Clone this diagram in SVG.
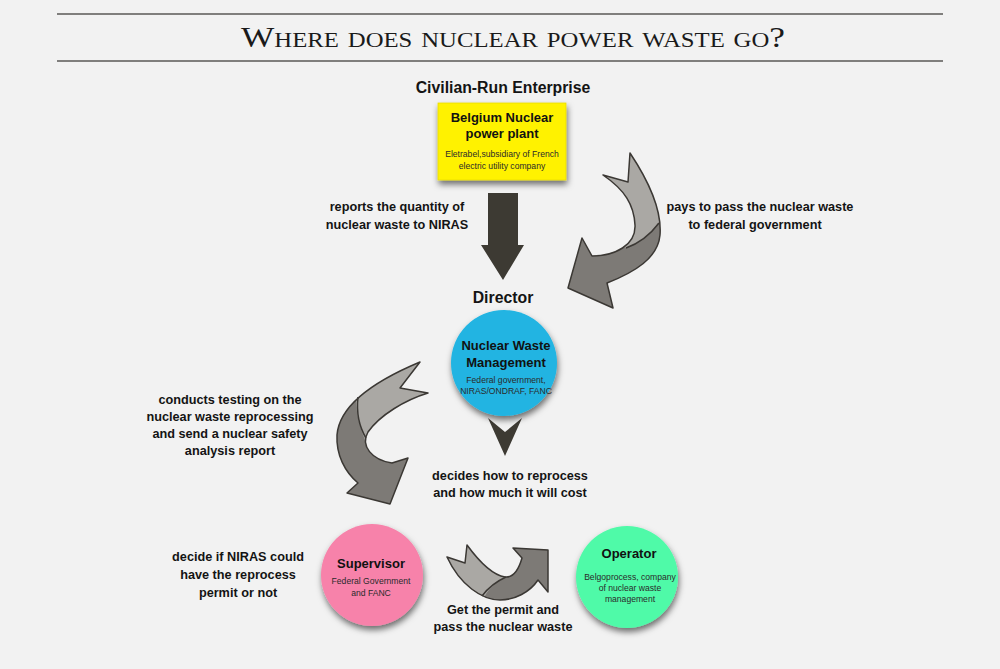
<svg xmlns="http://www.w3.org/2000/svg" width="1000" height="669" viewBox="0 0 1000 669">
<style>
.b{font-family:"Liberation Sans",Arial,sans-serif;font-weight:bold;font-size:12.7px;fill:#141414;text-anchor:middle}
.h{font-family:"Liberation Sans",Arial,sans-serif;font-weight:bold;font-size:15.8px;fill:#141414;text-anchor:middle}
.n{font-family:"Liberation Sans",Arial,sans-serif;font-weight:bold;font-size:13px;fill:#111;text-anchor:middle}
.s{font-family:"Liberation Sans",Arial,sans-serif;font-size:8.6px;fill:#2a2a2a;text-anchor:middle}
.rule{stroke:#5a5856;stroke-width:1.5}
.ar{stroke:#3b3834;stroke-width:1.5;stroke-linejoin:round}
.lt{fill:#aaa8a4}
.dk{fill:#7d7a76}
</style>
<defs>
<filter id="sh" x="-30%" y="-30%" width="160%" height="170%">
<feDropShadow dx="1" dy="4" stdDeviation="3" flood-color="#000" flood-opacity="0.55"/>
</filter>
<path id="a1" d="M603,175 L628,182 L630,153 C648,180 662,210 660,235 C658,258 635,272 607,283 L613,308 L568,288 L582,238 L592,256 C615,256 636,245 635,225 C634,205 625,190 603,175 Z"/>
<path id="a2" d="M420,362 L400,388 L428,393 C405,400 380,415 368,432 C360,446 372,460 392,463 L408,458 L390,504 L347,493 L358,483 C345,472 336,455 337,435 C339,410 365,385 420,362 Z"/>
<path id="a3" d="M447,557 L465,563 L467,545 C478,560 492,575 505,577 C515,578 520,565 522,558 L513,548 L548,550 L548,592 L538,580 C530,592 515,600 500,600 C482,600 460,585 447,557 Z"/>
<clipPath id="c1"><path d="M600,140 L700,140 L700,223 L658,223 C650,235 640,243 625,248 L605,225 Z"/></clipPath>
<clipPath id="c2"><path d="M356,397 C356,415 360,428 365,440 L440,440 L440,340 L356,340 Z"/></clipPath>
<clipPath id="c3"><path d="M440,540 L506,540 L506,577 C495,583 488,588 482,602 L440,602 Z"/></clipPath>
</defs>
<rect width="1000" height="669" fill="#f2f2f2"/>
<g id="title">
<line class="rule" x1="57" y1="14" x2="943" y2="14"/>
<line class="rule" x1="57" y1="61" x2="943" y2="61"/>
<text x="513" y="47" text-anchor="middle" font-family="'Liberation Serif','Times New Roman',serif" font-size="30" font-variant="small-caps" fill="#1a1a1a" textLength="544" lengthAdjust="spacingAndGlyphs">Where does nuclear power waste go?</text>
</g>
<g id="connectors">
<path d="M488,193 L518,193 L518,245 L524,245 L503,280 L481,245 L488,245 Z" fill="#3d3a33"/>
<path d="M488,418 L505,432 L522,418 L505,456 Z" fill="#3d3a33"/>
<use href="#a1" class="dk"/>
<use href="#a1" class="lt" clip-path="url(#c1)"/>
<path d="M659,223 C650,235 640,243 626,248" fill="none" class="ar"/>
<use href="#a1" fill="none" class="ar"/>
<use href="#a2" class="dk"/>
<use href="#a2" class="lt" clip-path="url(#c2)"/>
<path d="M358,397 C356,415 360,428 366,438" fill="none" class="ar"/>
<use href="#a2" fill="none" class="ar"/>
<use href="#a3" class="dk"/>
<use href="#a3" class="lt" clip-path="url(#c3)"/>
<path d="M482,596 C488,588 495,582 506,577" fill="none" class="ar"/>
<use href="#a3" fill="none" class="ar"/>
</g>
<g id="labels">
<text class="b" x="397" y="211">reports the quantity of</text>
<text class="b" x="397" y="229">nuclear waste to NIRAS</text>
<text class="b" x="760" y="211">pays to pass the nuclear waste</text>
<text class="b" x="755" y="229">to federal government</text>
<text class="b" x="230" y="404">conducts testing on the</text>
<text class="b" x="230" y="421">nuclear waste reprocessing</text>
<text class="b" x="230" y="438">and send a nuclear safety</text>
<text class="b" x="230" y="455">analysis report</text>
<text class="b" x="510" y="480">decides how to reprocess</text>
<text class="b" x="510" y="497">and how much it will cost</text>
<text class="b" x="238" y="561">decide if NIRAS could</text>
<text class="b" x="238" y="579">have the reprocess</text>
<text class="b" x="238" y="597">permit or not</text>
<text class="b" x="503" y="614">Get the permit and</text>
<text class="b" x="503" y="631">pass the nuclear waste</text>
<text class="h" x="503" y="93">Civilian-Run Enterprise</text>
<text class="h" x="503" y="303">Director</text>
</g>
<g id="plant">
<rect x="438" y="103" width="128" height="77" fill="#fff200" stroke="#e8dc00" stroke-width="0.8" filter="url(#sh)"/>
<text class="n" x="502" y="122">Belgium Nuclear</text>
<text class="n" x="502" y="138">power plant</text>
<text class="s" x="502" y="157">Eletrabel,subsidiary of French</text>
<text class="s" x="502" y="169">electric utility company</text>
</g>
<g id="director">
<circle cx="504" cy="363" r="53" fill="#20b4e2" filter="url(#sh)"/>
<text class="n" x="506" y="350">Nuclear Waste</text>
<text class="n" x="506" y="367">Management</text>
<text class="s" x="506" y="383">Federal government,</text>
<text class="s" x="506" y="394">NIRAS/ONDRAF, FANC</text>
</g>
<g id="supervisor">
<circle cx="372" cy="575" r="51" fill="#f782aa" filter="url(#sh)"/>
<text class="n" x="371" y="568">Supervisor</text>
<text class="s" x="371" y="584">Federal Government</text>
<text class="s" x="371" y="596">and FANC</text>
</g>
<g id="operator">
<circle cx="627" cy="577" r="51" fill="#4ffaa8" filter="url(#sh)"/>
<text class="n" x="629" y="558">Operator</text>
<text class="s" x="630" y="580">Belgoprocess, company</text>
<text class="s" x="630" y="591">of nuclear waste</text>
<text class="s" x="630" y="602">management</text>
</g>
</svg>
